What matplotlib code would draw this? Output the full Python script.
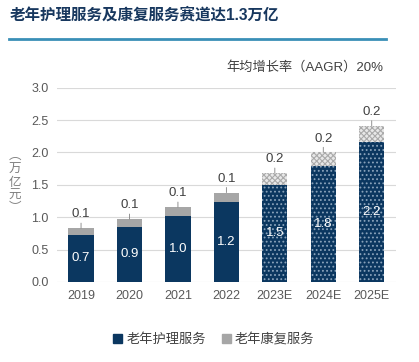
import matplotlib.pyplot as plt
from matplotlib.lines import Line2D
from matplotlib.patches import Patch

plt.rcParams['font.family'] = ['Liberation Sans', 'Noto Sans CJK SC', 'DejaVu Sans']
plt.rcParams['hatch.linewidth'] = 0.8

years = ['2019', '2020', '2021', '2022', '2023E', '2024E', '2025E']
care = [0.73, 0.855, 1.025, 1.24, 1.50, 1.79, 2.16]
rehab = [0.10, 0.115, 0.13, 0.14, 0.18, 0.21, 0.25]
care_labels = ['0.7', '0.9', '1.0', '1.2', '1.5', '1.8', '2.2']
rehab_labels = ['0.1', '0.1', '0.1', '0.1', '0.2', '0.2', '0.2']
forecast = [False, False, False, False, True, True, True]

NAVY = '#0b3760'
GREY = '#a6a6a6'
TXT = '#404040'

fig = plt.figure(figsize=(4.19, 3.62), dpi=100)
ax = fig.add_axes([0.1356, 0.221, 0.8094, 0.537])

x = list(range(len(years)))
for i in x:
    if forecast[i]:
        ax.bar(i, care[i], width=0.52, color=NAVY, edgecolor='#8aa3bb',
               hatch='....', linewidth=0, zorder=3)
        ax.bar(i, rehab[i], bottom=care[i], width=0.52, color='#e8e8e8',
               edgecolor='#aaaaaa', hatch='xxxxxx', linewidth=0, zorder=3)
    else:
        ax.bar(i, care[i], width=0.52, color=NAVY, zorder=3)
        ax.bar(i, rehab[i], bottom=care[i], width=0.52, color=GREY, zorder=3)
    ax.text(i, care[i] / 2, care_labels[i], ha='center', va='center',
            color='white', fontsize=9.5, zorder=4)
    top = care[i] + rehab[i]
    ax.annotate(rehab_labels[i], xy=(i, top), xytext=(0, 10),
                textcoords='offset points', ha='center', va='center',
                color=TXT, fontsize=9.5,
                arrowprops=dict(arrowstyle='-', color='#808080', lw=0.6,
                                shrinkA=5, shrinkB=0))

ax.set_xlim(-0.5, 6.5)
ax.set_ylim(0, 3.0)
ax.set_yticks([0, 0.5, 1.0, 1.5, 2.0, 2.5, 3.0])
ax.set_yticklabels([f'{v:.1f}' for v in [0, 0.5, 1.0, 1.5, 2.0, 2.5, 3.0]])
ax.set_xticks(x)
ax.set_xticklabels(years)
ax.tick_params(length=0, labelsize=9, colors='#595959', pad=6)
ax.grid(axis='y', color='#d9d9d9', linewidth=0.8, zorder=0)
for s in ax.spines.values():
    s.set_visible(False)

fig.text(0.024, 0.958, '老年护理服务及康复服务赛道达1.3万亿', fontsize=11.2,
         fontweight='bold', color='#17375e', va='center', ha='left')
fig.add_artist(Line2D([0.022, 0.921], [0.893, 0.893], color='#3a8fb7',
                      linewidth=2))
fig.text(0.915, 0.815, '年均增长率（AAGR）20%', fontsize=9.5, color='#404040',
         ha='right', va='center')

# vertical unit label, one glyph per line
unit_chars = ['︵', '万', '亿', '元', '︶']
unit_y = [155, 169, 182, 195, 208]
for ch, yy in zip(unit_chars, unit_y):
    fig.text(15 / 419, 1 - yy / 362, ch, fontsize=9, color='#7f7f7f',
             ha='center', va='center',
             family=['Noto Sans CJK SC', 'DejaVu Sans'])

handles = [Patch(color=NAVY), Patch(color=GREY)]
fig.legend(handles, ['老年护理服务', '老年康复服务'], loc='center',
           bbox_to_anchor=(0.51, 0.062), ncol=2, frameon=False,
           fontsize=9.5, handlelength=0.7, handleheight=0.7,
           handletextpad=0.3, columnspacing=1.2, labelcolor=TXT)

fig.savefig('out.png', dpi=100)
